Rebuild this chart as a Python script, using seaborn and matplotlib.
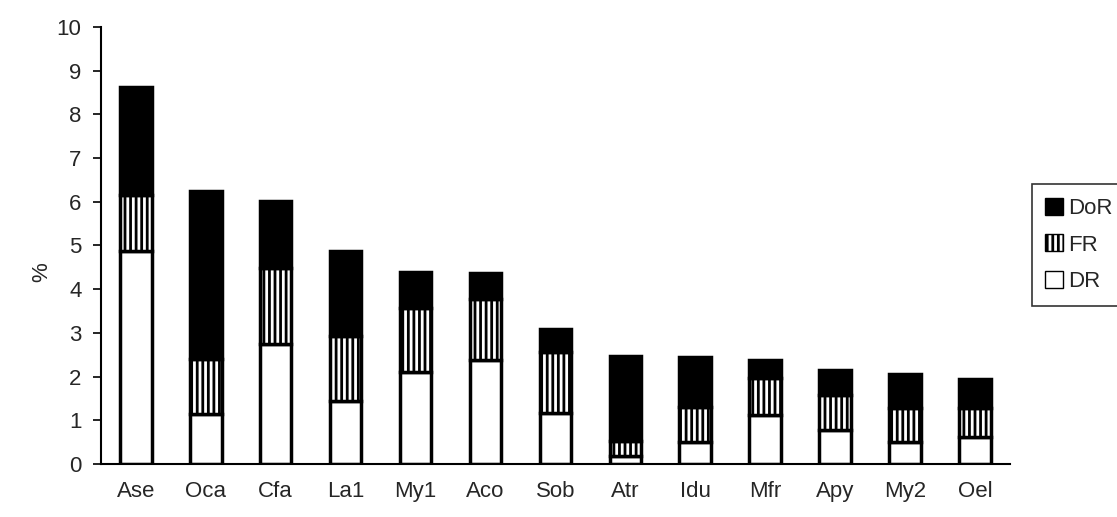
import matplotlib
matplotlib.use("Agg")
import matplotlib.pyplot as plt
import seaborn as sns
import numpy as np
import pandas as pd
from matplotlib.patches import Patch

categories = ["Ase", "Oca", "Cfa", "La1", "My1", "Aco", "Sob", "Atr", "Idu", "Mfr", "Apy", "My2", "Oel"]
DR = [4.88, 1.15, 2.75, 1.45, 2.10, 2.39, 1.16, 0.19, 0.50, 1.11, 0.78, 0.50, 0.61]
FR = [1.27, 1.25, 1.74, 1.47, 1.48, 1.38, 1.40, 0.34, 0.80, 0.85, 0.79, 0.78, 0.67]
DoR = [2.47, 3.84, 1.52, 1.96, 0.82, 0.59, 0.52, 1.93, 1.14, 0.43, 0.57, 0.78, 0.66]
yticks = list(range(0, 11))

sns.set_theme(style="white")
plt.rcParams["font.family"] = ["Liberation Sans", "DejaVu Sans"]
plt.rcParams["hatch.linewidth"] = 2.0
plt.rcParams["hatch.color"] = "black"

fig = plt.figure(figsize=(11.17, 5.17), dpi=100)
ax = fig.add_axes([0.0904, 0.1025, 0.8136, 0.8455])

df = pd.DataFrame({"cat": categories, "DR": DR, "FR": FR, "DoR": DoR})
bottom_fr = np.array(DR)
bottom_dor = np.array(DR) + np.array(FR)

common = dict(width=0.45, edgecolor="black", linewidth=2.5, ax=ax, order=categories)
sns.barplot(data=df, x="cat", y="DR", color="white", **common)
sns.barplot(data=df, x="cat", y="FR", bottom=bottom_fr, color="white", hatch="|||", **common)
sns.barplot(data=df, x="cat", y="DoR", bottom=bottom_dor, color="black", **common)

FS = 16
ax.set_ylim(0, 10)
ax.set_xlim(-0.5, len(categories) - 0.5)
ax.set_yticks(yticks)
ax.set_yticklabels([str(t) for t in yticks], fontsize=FS)
ax.set_xticks(range(len(categories)))
ax.set_xticklabels(categories, fontsize=FS)
ax.tick_params(axis="x", length=0, pad=12)
ax.set_xticks(np.arange(-0.5, len(categories), 1.0), minor=True)
ax.tick_params(axis="x", which="minor", length=6, width=1.2, direction="out", color="black")
ax.tick_params(axis="y", length=6, width=1.2, direction="out", color="black", left=True, pad=8)
ax.set_xlabel("")
ax.set_ylabel("%", fontsize=FS, labelpad=3)
ax.yaxis.label.set_y(0.44)

for s in ["top", "right"]:
    ax.spines[s].set_visible(False)
for s in ["left", "bottom"]:
    ax.spines[s].set_color("black")
    ax.spines[s].set_linewidth(1.5)

handles = [
    Patch(facecolor="black", edgecolor="black", label="DoR"),
    Patch(facecolor="white", edgecolor="black", hatch="|||", label="FR"),
    Patch(facecolor="white", edgecolor="black", label="DR"),
]
leg = fig.legend(handles=handles, loc="center left", bbox_to_anchor=(0.924, 0.526),
                 fontsize=FS, frameon=True, fancybox=False, edgecolor="black",
                 handlelength=0.8, handleheight=0.8, handletextpad=0.2,
                 labelspacing=0.7, borderpad=0.6, borderaxespad=0)
leg.get_frame().set_linewidth(1.2)

fig.savefig("out.png", dpi=100)
